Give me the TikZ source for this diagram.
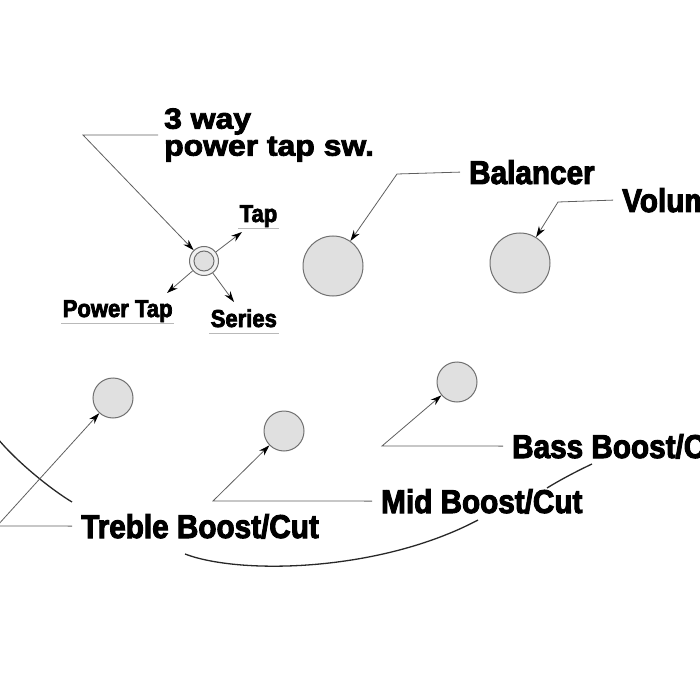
\documentclass[tikz,border=0pt]{standalone}
\usepackage{fontspec}
\newfontfamily\lblfont[FakeStretch=0.9,FakeBold=3]{Liberation Sans}
\newfontfamily\swfont[FakeStretch=1.1,FakeBold=3]{Liberation Sans}
\definecolor{knobfill}{RGB}{224,224,224}
\definecolor{knobline}{RGB}{112,112,112}
\definecolor{leadgray}{RGB}{95,95,95}
\definecolor{ulgray}{RGB}{185,185,185}
\definecolor{bodyline}{RGB}{40,40,40}
\usetikzlibrary{arrows.meta}

\begin{document}
\begin{tikzpicture}[x=1pt, y=-1pt,
  knob/.style={circle, draw=knobline, line width=1pt, fill=knobfill, inner sep=0pt},
  lbl/.style={font=\lblfont\bfseries\fontsize{33}{36}\selectfont, anchor=base west,
              text height=23.8pt, text depth=0pt, inner xsep=9pt, inner ysep=0pt},
  small/.style={font=\lblfont\bfseries\fontsize{24.5}{28}\selectfont, anchor=base west,
                text depth=5pt, inner xsep=1.5pt, inner ysep=1pt},
  lead/.style={draw=leadgray, line width=0.8pt},
  arr/.style={lead, -{Stealth[length=11pt, width=7pt, color=black]}},
  uline/.style={draw=ulgray, line width=0.9pt},
  body/.style={draw=bodyline, line width=1.3pt}
]
\useasboundingbox (0,0) rectangle (700,700);
\clip (0,0) rectangle (700,700);

% Body outline
\draw[body] (-2,439) .. controls (18,463) and (52,490) .. (72,502);
\draw[body] (185,554) .. controls (240,575) and (380,572) .. (478,520);
\draw[body] (547,488) .. controls (560,480) and (577,471) .. (592,464);

% Three way switch
\node[knob, minimum size=29pt, fill=knobfill!45] (sw) at (204,261) {};
\node[knob, minimum size=20pt] (swin) at (sw.center) {};
\node[font=\swfont\bfseries\fontsize{29}{27}\selectfont, align=left, anchor=west,
      inner xsep=6pt] (swtxt) at (158,135) {3 way\\power tap sw.};
\coordinate (swc) at (83,135);
\draw[arr] (swtxt.west) -- (swc) -- (sw);

% Switch positions
\coordinate (taptip)    at (242,232);
\coordinate (ptaptip)   at (167,293);
\coordinate (seriestip) at (234,302);
\draw[arr] (sw) -- (taptip);
\draw[arr] (sw) -- (ptaptip);
\draw[arr] (sw) -- (seriestip);

\node[small] (tap)    at (238,222) {Tap};
\node[small] (ptap)   at (61,317)  {Power Tap};
\node[small] (series) at (209,327) {Series};
\draw[uline] (tap.south west) -- (tap.south east);
\draw[uline] (ptap.south west) -- (ptap.south east);
\draw[uline] (series.south west) -- (series.south east);

% Knobs
\node[knob, minimum size=60pt] (bal)    at (333,266) {};
\node[knob, minimum size=60pt] (vol)    at (520,263) {};
\node[knob, minimum size=40pt] (treble) at (113,398) {};
\node[knob, minimum size=40pt] (mid)    at (284,431) {};
\node[knob, minimum size=40pt] (bass)   at (457,382) {};

% Labels
\node[lbl] (ballbl)    at (460,184) {Balancer};
\node[lbl] (vollbl)    at (613,212) {Volume};
\node[lbl] (treblelbl) at (72,538)  {Treble Boost/Cut};
\node[lbl] (midlbl)    at (372,513) {Mid Boost/Cut};
\node[lbl] (basslbl)   at (503,458) {Bass Boost/Cut};

% Leaders
\coordinate (balc)    at (397,174);
\coordinate (volc)    at (558,202);
\coordinate (treblec) at (-3,526);
\coordinate (midc)    at (213,501);
\coordinate (bassc)   at (382,446);
\draw[arr] (ballbl.west)    -- (balc)    -- (bal);
\draw[arr] (vollbl.west)    -- (volc)    -- (vol);
\draw[arr] (treblelbl.west) -- (treblec) -- (treble);
\draw[arr] (midlbl.west)    -- (midc)    -- (mid);
\draw[arr] (basslbl.west)   -- (bassc)   -- (bass);
\end{tikzpicture}
\end{document}
